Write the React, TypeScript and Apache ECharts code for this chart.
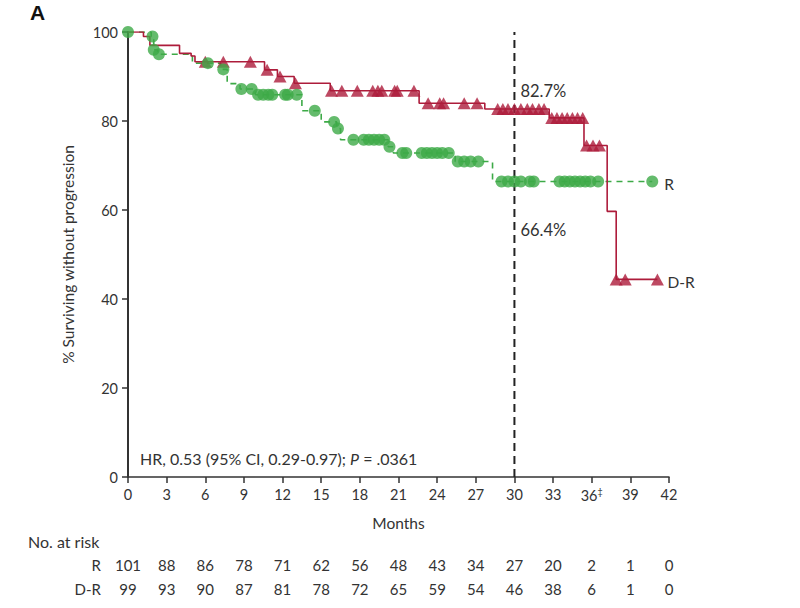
import React, { useEffect, useRef } from "react";
import * as echarts from "echarts";

const RED = "#AD1C3B";
const GREEN = "#3DAA47";
const TEXT = "#333333";
const FONT = "Lato";

const xTicks = [0, 3, 6, 9, 12, 15, 18, 21, 24, 27, 30, 33, 36, 39, 42];
const riskR = [101, 88, 86, 78, 71, 62, 56, 48, 43, 34, 27, 20, 2, 1, 0];
const riskDR = [99, 93, 90, 87, 81, 78, 72, 65, 59, 54, 46, 38, 6, 1, 0];

// Kaplan-Meier steps [month, % surviving]
const drSteps: [number, number][] = [
  [0, 100], [1.2, 99], [1.7, 97], [4.0, 95.2], [4.9, 94.6], [5.2, 93.3],
  [10.6, 91.5], [11.6, 90], [12.9, 88.5], [15.7, 86.8], [22.6, 84],
  [27.7, 82.7], [32.7, 80.7], [35.4, 74.5], [37.2, 59.7], [37.9, 44.4], [41.1, 44.4],
];
const rSteps: [number, number][] = [
  [0, 100], [1.8, 99], [2.0, 96], [2.3, 95], [5.0, 93], [7.2, 91.6], [7.7, 88.4],
  [8.7, 87.2], [9.9, 85.9], [13.5, 82.3], [15.0, 79.8], [16.2, 78.3], [16.5, 75.8],
  [20.2, 74.2], [20.6, 72.8], [25.4, 70.9], [28.3, 66.4], [40.7, 66.4],
];

// censored observations
const drCensor: [number, number][] = [
  [6.0, 93.3], [7.4, 93.3], [9.5, 93.3], [10.8, 91.5], [11.8, 90], [13.0, 88.5],
  [15.8, 86.8], [16.6, 86.8], [17.8, 86.8], [19.0, 86.8], [19.4, 86.8], [19.7, 86.8],
  [20.7, 86.8], [20.9, 86.8], [22.2, 86.8],
  [23.3, 84], [24.2, 84], [24.5, 84], [26.1, 84], [27.1, 84],
  [28.7, 82.7], [29.1, 82.7], [29.5, 82.7], [30.0, 82.7], [30.5, 82.7], [31.0, 82.7],
  [31.4, 82.7], [31.9, 82.7], [32.3, 82.7],
  [32.9, 80.7], [33.3, 80.7], [33.7, 80.7], [34.1, 80.7], [34.5, 80.7], [34.9, 80.7], [35.3, 80.7],
  [35.6, 74.5], [36.1, 74.5], [36.6, 74.5],
  [37.9, 44.4], [38.6, 44.4], [41.1, 44.4],
];
const rCensor: [number, number][] = [
  [0, 100], [1.9, 99], [2.0, 96], [2.4, 95], [6.2, 93], [7.4, 91.6],
  [8.8, 87.2], [9.6, 87.2],
  [10.1, 85.9], [10.5, 85.9], [10.9, 85.9], [11.2, 85.9], [12.2, 85.9], [12.4, 85.9], [13.1, 85.9],
  [14.5, 82.3], [16.0, 79.8], [16.3, 78.3],
  [17.5, 75.8], [18.3, 75.8], [18.7, 75.8], [19.1, 75.8], [19.5, 75.8], [19.9, 75.8],
  [20.3, 74.2],
  [21.3, 72.8], [21.6, 72.8], [22.8, 72.8], [23.2, 72.8], [23.6, 72.8], [24.0, 72.8], [24.4, 72.8], [24.9, 72.8],
  [25.6, 70.9], [26.1, 70.9], [26.6, 70.9], [27.2, 70.9],
  [29.0, 66.4], [29.5, 66.4], [30.0, 66.4], [30.5, 66.4], [31.2, 66.4], [31.5, 66.4],
  [33.5, 66.4], [33.9, 66.4], [34.3, 66.4], [34.7, 66.4], [35.1, 66.4], [35.5, 66.4], [35.9, 66.4], [36.5, 66.4],
  [40.7, 66.4],
];

const landmark = 30;
const drAt30 = 82.7;
const rAt30 = 66.4;

export default function App() {
  const ref = useRef<HTMLDivElement>(null);
  useEffect(() => {
    document.body.style.margin = "0";
    const chart = echarts.init(ref.current!, null, { renderer: "svg" });
    chart.setOption({
      animation: false,
      textStyle: { fontFamily: FONT },
      grid: { left: 128, right: 131, top: 32, bottom: 131, containLabel: false },
      xAxis: {
        type: "value",
        min: 0,
        max: 42,
        interval: 3,
        name: "Months",
        nameLocation: "middle",
        nameGap: 38,
        nameTextStyle: { fontSize: 15.5, color: TEXT, fontFamily: FONT },
        splitLine: { show: false },
        axisLine: { lineStyle: { color: "#333", width: 1.5 } },
        axisTick: { length: 6, lineStyle: { color: "#333", width: 1.5 } },
        axisLabel: {
          fontSize: 14.5,
          color: TEXT,
          margin: 10,
          formatter: (v: number) => (v === 36 ? "{n|36}{s|‡}" : "{n|" + v + "}"),
          rich: {
            n: { fontSize: 14.5, color: TEXT, fontFamily: FONT },
            s: { fontSize: 9, color: TEXT, fontFamily: FONT, verticalAlign: "top", padding: [0, 0, 8, 0] },
          },
        },
      },
      yAxis: {
        type: "value",
        min: 0,
        max: 100,
        interval: 20,
        name: "% Surviving without progression",
        nameLocation: "middle",
        nameGap: 52,
        nameTextStyle: { fontSize: 15.5, color: TEXT, fontFamily: FONT },
        splitLine: { show: false },
        axisLine: { show: true, lineStyle: { color: "#333", width: 2 } },
        axisTick: { show: true, length: 6, lineStyle: { color: "#333", width: 1.5 } },
        axisLabel: { fontSize: 14.5, color: TEXT, margin: 10 },
      },
      series: [
        {
          type: "line",
          data: [[landmark, 0], [landmark, 100]],
          showSymbol: false,
          lineStyle: { color: "#222", width: 2, type: [8, 5] },
          silent: true,
          z: 1,
        },
        {
          type: "line",
          name: "R",
          step: "end",
          data: rSteps,
          showSymbol: false,
          lineStyle: { color: GREEN, width: 1.6, type: [6, 5] },
          z: 2,
        },
        {
          type: "line",
          name: "D-R",
          step: "end",
          data: drSteps,
          showSymbol: false,
          lineStyle: { color: RED, width: 1.6 },
          z: 3,
        },
        {
          type: "scatter",
          data: drCensor,
          symbol: "triangle",
          symbolSize: [13, 12],
          itemStyle: { color: RED },
          z: 4,
        },
        {
          type: "scatter",
          data: rCensor,
          symbol: "circle",
          symbolSize: 12,
          itemStyle: { color: GREEN },
          z: 5,
        },
      ],
    });

    const gx = (t: number) => chart.convertToPixel({ xAxisIndex: 0 }, t) as number;
    const gp = (p: [number, number]) => chart.convertToPixel({ gridIndex: 0 }, p) as number[];
    const graphics: any[] = [];
    const base = { fontFamily: FONT, fill: TEXT };
    graphics.push({
      type: "text",
      left: 30,
      top: 2,
      style: { ...base, text: "A", fontSize: 21, fontWeight: "bold", fontFamily: "Liberation Sans", fill: "#111" },
    });
    const p1 = gp([landmark, drAt30]);
    graphics.push({
      type: "text", x: p1[0] + 6, y: p1[1] - 18,
      style: { ...base, text: drAt30.toFixed(1) + "%", fontSize: 16.5, align: "left", verticalAlign: "middle" },
    });
    const p2 = gp([landmark, rAt30]);
    graphics.push({
      type: "text", x: p2[0] + 6, y: p2[1] + 48,
      style: { ...base, text: rAt30.toFixed(1) + "%", fontSize: 16.5, align: "left", verticalAlign: "middle" },
    });
    const rEnd = gp(rSteps[rSteps.length - 1]);
    graphics.push({
      type: "text", x: rEnd[0] + 12, y: rEnd[1] + 2,
      style: { ...base, text: "R", fontSize: 15.5, align: "left", verticalAlign: "middle" },
    });
    const dEnd = gp(drSteps[drSteps.length - 1]);
    graphics.push({
      type: "text", x: dEnd[0] + 10, y: dEnd[1] + 3,
      style: { ...base, text: "D-R", fontSize: 15.5, align: "left", verticalAlign: "middle" },
    });
    const hr = gp([0, 0]);
    graphics.push({
      type: "text", x: hr[0] + 12, y: hr[1] - 19,
      style: {
        text: "{n|HR, 0.53 (95% CI, 0.29-0.97); }{i|P}{n| = .0361}",
        verticalAlign: "middle",
        rich: {
          n: { fontSize: 16, fill: TEXT, fontFamily: FONT },
          i: { fontSize: 16, fill: TEXT, fontFamily: FONT, fontStyle: "italic" },
        },
      },
    });
    graphics.push({
      type: "text", x: 28, y: 541,
      style: { ...base, text: "No. at risk", fontSize: 16, align: "left", verticalAlign: "middle" },
    });
    graphics.push({
      type: "text", x: 101, y: 565,
      style: { ...base, text: "R", fontSize: 15, align: "right", verticalAlign: "middle" },
    });
    graphics.push({
      type: "text", x: 101, y: 589,
      style: { ...base, text: "D-R", fontSize: 15, align: "right", verticalAlign: "middle" },
    });
    xTicks.forEach((t, i) => {
      const x = gx(t);
      graphics.push({
        type: "text", x, y: 565,
        style: { ...base, text: String(riskR[i]), fontSize: 15, align: "center", verticalAlign: "middle" },
      });
      graphics.push({
        type: "text", x, y: 589,
        style: { ...base, text: String(riskDR[i]), fontSize: 15, align: "center", verticalAlign: "middle" },
      });
    });
    chart.setOption({ graphic: graphics });
    return () => chart.dispose();
  }, []);
  return <div ref={ref} style={{ width: 800, height: 608 }} />;
}
